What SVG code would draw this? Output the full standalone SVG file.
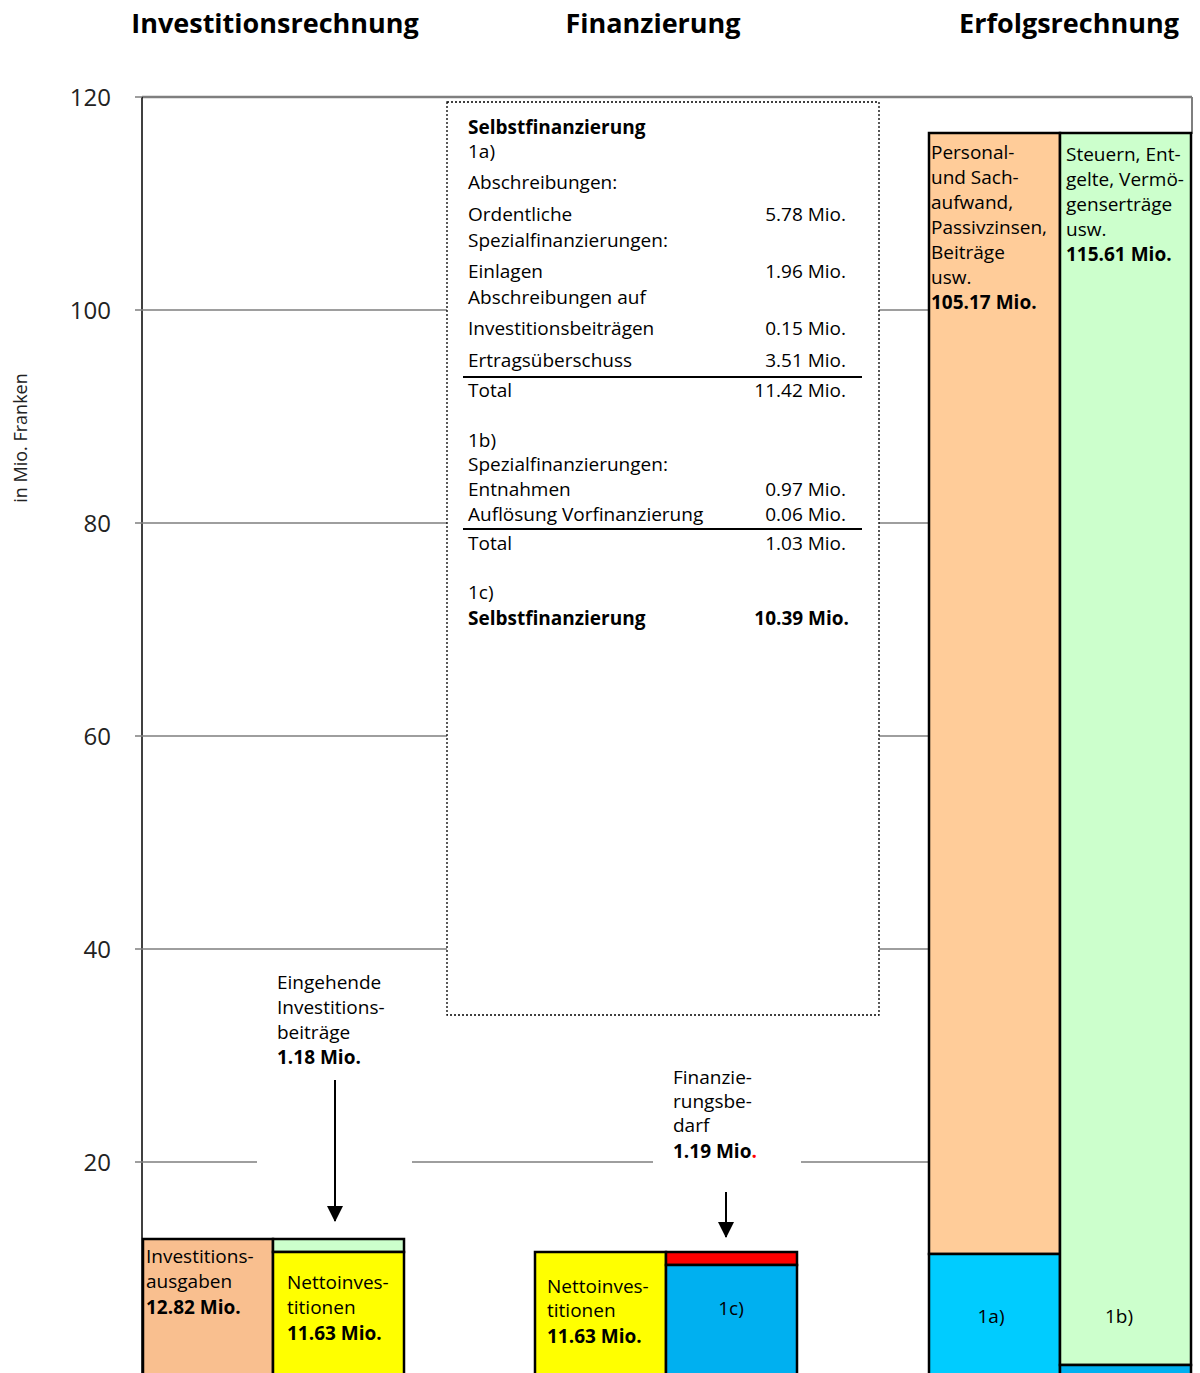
<svg xmlns="http://www.w3.org/2000/svg" width="1200" height="1373" viewBox="0 0 1200 1373">
<style>
text{font-family:"Open Sans","Noto Sans","Liberation Sans",sans-serif;fill:#000;}
.h{font-size:27px;font-weight:bold;text-anchor:middle;}
.ax{font-size:24px;text-anchor:end;fill:#222;}
.t{font-size:19px;}
.b{font-weight:bold;}
.r{text-anchor:end;}
.m{text-anchor:middle;}
.grid{stroke:#7f7f7f;stroke-width:1.3;fill:none;}
.bar{stroke:#000;stroke-width:2.5;}
</style>
<defs>
<marker id="ah" markerWidth="16" markerHeight="16" refX="15" refY="8" orient="auto" markerUnits="userSpaceOnUse" viewBox="0 0 16 16">
<path d="M0,0 L16,8 L0,16 Z" fill="#000"/>
</marker>
</defs>
<rect width="1200" height="1373" fill="#fff"/>
<g id="headers">
<text class="h" x="275" y="33">Investitionsrechnung</text>
<text class="h" x="653" y="33">Finanzierung</text>
<text class="h" x="1069" y="33">Erfolgsrechnung</text>
</g>
<g id="axis">
<line x1="142" y1="97" x2="1192" y2="97" stroke="#7f7f7f" stroke-width="2.5"/>
<line x1="1192" y1="97" x2="1192" y2="134" stroke="#7f7f7f" stroke-width="2"/>
<line x1="142" y1="97" x2="142" y2="1373" stroke="#000" stroke-width="1.5"/>
<g class="grid">
<path d="M135,97H142 M135,310H142 M135,523H142 M135,736H142 M135,949H142 M135,1162H142"/>
<path d="M142,310H447 M879,310H928 M142,523H447 M879,523H928 M142,736H447 M879,736H928 M142,949H447 M879,949H928 M142,1162H257 M412,1162H653 M801,1162H928"/>
</g>
<text class="ax" x="111" y="106">120</text>
<text class="ax" x="111" y="319">100</text>
<text class="ax" x="111" y="532">80</text>
<text class="ax" x="111" y="745">60</text>
<text class="ax" x="111" y="958">40</text>
<text class="ax" x="111" y="1171">20</text>
<text transform="translate(27,438) rotate(-90)" style="font-size:18px;text-anchor:middle;fill:#222;">in Mio. Franken</text>
</g>
<g id="selbstfinanzierung-box">
<rect x="447" y="102" width="432" height="913" fill="#fff" stroke="#000" stroke-width="1.3" stroke-dasharray="2,2"/>
<text class="t b" x="468" y="134">Selbstfinanzierung</text>
<text class="t" x="468" y="158">1a)</text>
<text class="t" x="468" y="189">Abschreibungen:</text>
<text class="t" x="468" y="221">Ordentliche</text>
<text class="t r" x="846" y="221">5.78 Mio.</text>
<text class="t" x="468" y="247">Spezialfinanzierungen:</text>
<text class="t" x="468" y="278">Einlagen</text>
<text class="t r" x="846" y="278">1.96 Mio.</text>
<text class="t" x="468" y="304">Abschreibungen auf</text>
<text class="t" x="468" y="335">Investitionsbeiträgen</text>
<text class="t r" x="846" y="335">0.15 Mio.</text>
<text class="t" x="468" y="367">Ertragsüberschuss</text>
<text class="t r" x="846" y="367">3.51 Mio.</text>
<line x1="463" y1="377" x2="862" y2="377" stroke="#000" stroke-width="2"/>
<text class="t" x="468" y="397">Total</text>
<text class="t r" x="846" y="397">11.42 Mio.</text>
<text class="t" x="468" y="447">1b)</text>
<text class="t" x="468" y="471">Spezialfinanzierungen:</text>
<text class="t" x="468" y="496">Entnahmen</text>
<text class="t r" x="846" y="496">0.97 Mio.</text>
<text class="t" x="468" y="521">Auflösung Vorfinanzierung</text>
<text class="t r" x="846" y="521">0.06 Mio.</text>
<line x1="463" y1="529" x2="862" y2="529" stroke="#000" stroke-width="2"/>
<text class="t" x="468" y="550">Total</text>
<text class="t r" x="846" y="550">1.03 Mio.</text>
<text class="t" x="468" y="599">1c)</text>
<text class="t b" x="468" y="625">Selbstfinanzierung</text>
<text class="t b r" x="849" y="625">10.39 Mio.</text>
</g>
<g id="investitionsbeitraege-label">
<text class="t" x="277" y="989">Eingehende</text>
<text class="t" x="277" y="1014">Investitions-</text>
<text class="t" x="277" y="1039">beiträge</text>
<text class="t b" x="277" y="1064">1.18 Mio.</text>
</g>
<g id="finanzierungsbedarf-label">
<text class="t" x="673" y="1084">Finanzie-</text>
<text class="t" x="673" y="1108">rungsbe-</text>
<text class="t" x="673" y="1132">darf</text>
<text class="t b" x="673" y="1158">1.19 Mio<tspan style="fill:#ff0000">.</tspan></text>
</g>
<g id="connectors">
<line x1="335" y1="1080" x2="335" y2="1221" stroke="#000" stroke-width="2" marker-end="url(#ah)"/>
<line x1="726" y1="1192" x2="726" y2="1237" stroke="#000" stroke-width="2" marker-end="url(#ah)"/>
</g>
<g id="investitionsausgaben">
<rect class="bar" x="143" y="1239" width="130" height="140" fill="#f9bf8f"/>
<text class="t" x="146" y="1263">Investitions-</text>
<text class="t" x="146" y="1288">ausgaben</text>
<text class="t b" x="146" y="1314">12.82 Mio.</text>
</g>
<g id="nettoinvestitionen-links">
<rect class="bar" x="273" y="1239" width="131" height="13" fill="#ccffcc"/>
<rect class="bar" x="273" y="1252" width="131" height="127" fill="#ffff00"/>
<text class="t" x="287" y="1289">Nettoinves-</text>
<text class="t" x="287" y="1314">titionen</text>
<text class="t b" x="287" y="1340">11.63 Mio.</text>
</g>
<g id="nettoinvestitionen-mitte">
<rect class="bar" x="535" y="1252" width="131" height="127" fill="#ffff00"/>
<text class="t" x="547" y="1293">Nettoinves-</text>
<text class="t" x="547" y="1317">titionen</text>
<text class="t b" x="547" y="1343">11.63 Mio.</text>
</g>
<g id="selbstfinanzierung-1c">
<rect class="bar" x="666" y="1252" width="131" height="13" fill="#ff0000"/>
<rect class="bar" x="666" y="1265" width="131" height="114" fill="#00b0f0"/>
<text class="t m" x="731" y="1315">1c)</text>
</g>
<g id="aufwand">
<rect class="bar" x="929" y="133" width="131" height="1121" fill="#ffcc99"/>
<rect class="bar" x="929" y="1254" width="131" height="125" fill="#00ccff"/>
<text class="t" x="931" y="159">Personal-</text>
<text class="t" x="931" y="184">und Sach-</text>
<text class="t" x="931" y="209">aufwand,</text>
<text class="t" x="931" y="234">Passivzinsen,</text>
<text class="t" x="931" y="259">Beiträge</text>
<text class="t" x="931" y="284">usw.</text>
<text class="t b" x="931" y="309">105.17 Mio.</text>
<text class="t m" x="991" y="1323">1a)</text>
</g>
<g id="ertrag">
<rect class="bar" x="1060" y="133" width="131" height="1232" fill="#ccffcc"/>
<rect class="bar" x="1060" y="1365" width="131" height="14" fill="#00b0f0"/>
<text class="t" x="1066" y="161">Steuern, Ent-</text>
<text class="t" x="1066" y="186">gelte, Vermö-</text>
<text class="t" x="1066" y="211">genserträge</text>
<text class="t" x="1066" y="236">usw.</text>
<text class="t b" x="1066" y="261">115.61 Mio.</text>
<text class="t m" x="1119" y="1323">1b)</text>
</g>
</svg>
